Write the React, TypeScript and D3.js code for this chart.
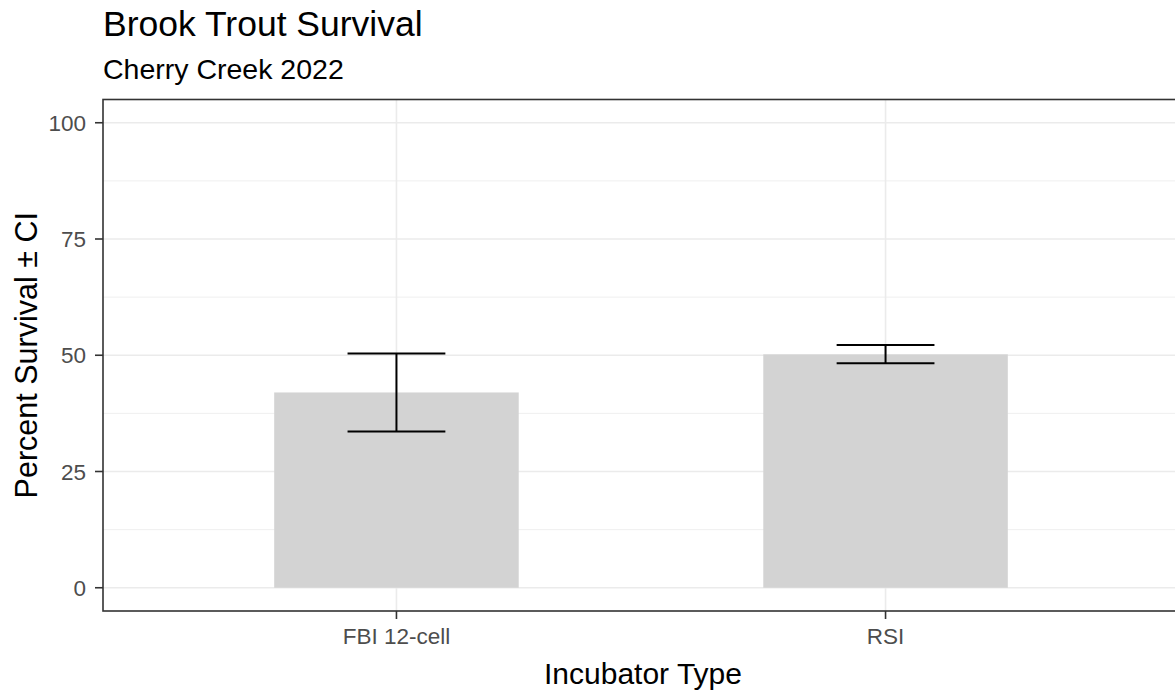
import { useEffect, useRef } from 'react';
import * as d3 from 'd3';

const categories = ['FBI 12-cell', 'RSI'];
const survival = [42.0, 50.2];
const ciLower = [33.6, 48.3];
const ciUpper = [50.4, 52.2];
const yTicks = [0, 25, 50, 75, 100];
const yMinor = [12.5, 37.5, 62.5, 87.5];

const W = 1175;
const H = 693;
const FONT = '"Liberation Sans", Arial, sans-serif';

export default function App() {
    const ref = useRef<SVGSVGElement>(null);

    useEffect(() => {
        const svg = d3.select(ref.current);
        svg.selectAll('*').remove();

        const left = 103, right = 1179, top = 99.5, bottom = 611;

        const x = d3.scalePoint<string>()
            .domain(categories)
            .range([left, right])
            .padding(0.6);
        const step = x.step();

        const y = d3.scaleLinear()
            .domain([-5, 105])
            .range([bottom, top]);

        svg.append('rect')
            .attr('width', W).attr('height', H).attr('fill', '#fff');

        const grid = svg.append('g');
        grid.selectAll('line.minor')
            .data(yMinor)
            .enter().append('line')
            .attr('x1', left).attr('x2', right)
            .attr('y1', d => y(d)).attr('y2', d => y(d))
            .attr('stroke', '#ebebeb').attr('stroke-width', 0.8);
        grid.selectAll('line.major')
            .data(yTicks)
            .enter().append('line')
            .attr('x1', left).attr('x2', right)
            .attr('y1', d => y(d)).attr('y2', d => y(d))
            .attr('stroke', '#ebebeb').attr('stroke-width', 1.6);
        grid.selectAll('line.vmajor')
            .data(categories)
            .enter().append('line')
            .attr('x1', d => x(d)!).attr('x2', d => x(d)!)
            .attr('y1', top).attr('y2', bottom)
            .attr('stroke', '#ebebeb').attr('stroke-width', 1.6);

        const barW = step * 0.5;
        svg.append('g').selectAll('rect')
            .data(categories)
            .enter().append('rect')
            .attr('x', d => x(d)! - barW / 2)
            .attr('width', barW)
            .attr('y', (d, i) => y(survival[i]))
            .attr('height', (d, i) => y(0) - y(survival[i]))
            .attr('fill', '#d3d3d3');

        const errW = step * 0.2;
        const err = svg.append('g')
            .attr('stroke', '#000').attr('stroke-width', 2).attr('fill', 'none');
        categories.forEach((c, i) => {
            const cx = x(c)!;
            err.append('line')
                .attr('x1', cx).attr('x2', cx)
                .attr('y1', y(ciLower[i])).attr('y2', y(ciUpper[i]));
            err.append('line')
                .attr('x1', cx - errW / 2).attr('x2', cx + errW / 2)
                .attr('y1', y(ciLower[i])).attr('y2', y(ciLower[i]));
            err.append('line')
                .attr('x1', cx - errW / 2).attr('x2', cx + errW / 2)
                .attr('y1', y(ciUpper[i])).attr('y2', y(ciUpper[i]));
        });

        // panel border
        svg.append('rect')
            .attr('x', left).attr('y', top)
            .attr('width', right - left).attr('height', bottom - top)
            .attr('fill', 'none').attr('stroke', '#333').attr('stroke-width', 1.6);

        // y axis
        const yAxis = svg.append('g');
        yAxis.selectAll('line')
            .data(yTicks)
            .enter().append('line')
            .attr('x1', left - 8).attr('x2', left)
            .attr('y1', d => y(d)).attr('y2', d => y(d))
            .attr('stroke', '#333').attr('stroke-width', 1.6);
        yAxis.selectAll('text')
            .data(yTicks)
            .enter().append('text')
            .attr('x', left - 17)
            .attr('y', d => y(d))
            .attr('dy', '0.36em')
            .attr('text-anchor', 'end')
            .attr('font-family', FONT).attr('font-size', 22.5)
            .attr('fill', '#4d4d4d')
            .text(d => d);

        // x axis
        const xAxis = svg.append('g');
        xAxis.selectAll('line')
            .data(categories)
            .enter().append('line')
            .attr('x1', d => x(d)!).attr('x2', d => x(d)!)
            .attr('y1', bottom).attr('y2', bottom + 8)
            .attr('stroke', '#333').attr('stroke-width', 1.6);
        xAxis.selectAll('text')
            .data(categories)
            .enter().append('text')
            .attr('x', d => x(d)!)
            .attr('y', 644)
            .attr('text-anchor', 'middle')
            .attr('font-family', FONT).attr('font-size', 22.5)
            .attr('fill', '#4d4d4d')
            .text(d => d);

        svg.append('text')
            .attr('x', (left + right) / 2 + 2)
            .attr('y', 684)
            .attr('text-anchor', 'middle')
            .attr('font-family', FONT).attr('font-size', 30)
            .attr('fill', '#000')
            .text('Incubator Type');

        svg.append('text')
            .attr('transform', `translate(37,${(top + bottom) / 2}) rotate(-90)`)
            .attr('text-anchor', 'middle')
            .attr('font-family', FONT).attr('font-size', 30.5)
            .attr('fill', '#000')
            .text('Percent Survival ± CI');

        svg.append('text')
            .attr('x', left)
            .attr('y', 36)
            .attr('font-family', FONT).attr('font-size', 35.5)
            .attr('fill', '#000')
            .text('Brook Trout Survival');

        svg.append('text')
            .attr('x', left)
            .attr('y', 79)
            .attr('font-family', FONT).attr('font-size', 28.5)
            .attr('fill', '#000')
            .text('Cherry Creek 2022');
    }, []);

    return (
        <svg
            ref={ref}
            width={W}
            height={H}
            style={{ display: 'block', position: 'absolute', left: 0, top: 0 }}
        />
    );
}
